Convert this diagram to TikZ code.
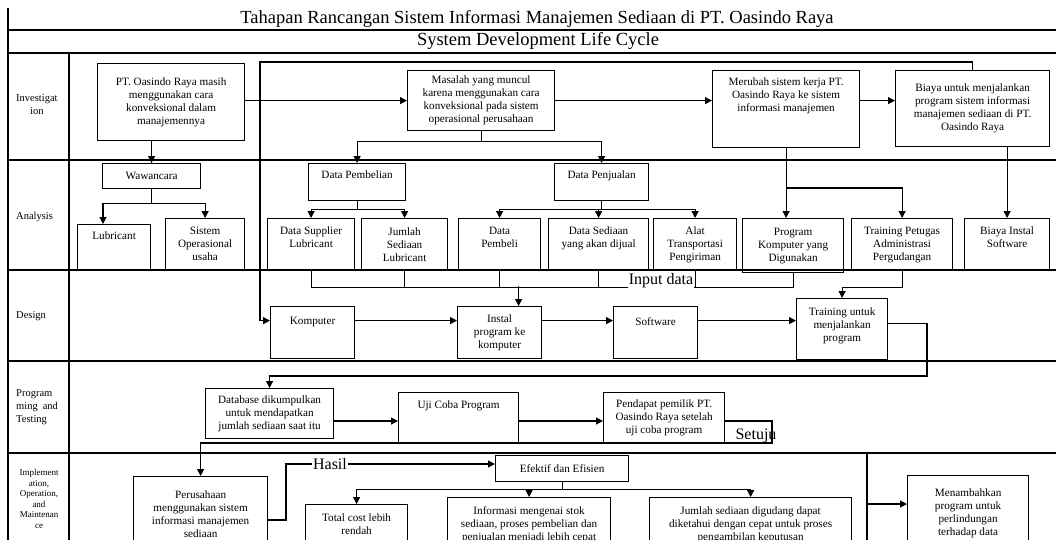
\documentclass[tikz,border=0pt]{standalone}
\usepackage{fontspec}
\setmainfont{Liberation Serif}
\usetikzlibrary{arrows.meta}

\tikzset{
  box/.style 2 args={draw, line width=1.2pt, anchor=north west, align=center,
    minimum width=#1pt, minimum height=#2pt, inner sep=2pt,
    font=\fontsize{11.2}{13}\selectfont},
  txtup/.style={text depth=#1pt},
  ln/.style={line width=1.2pt},
  arr/.style={line width=1.2pt, -{Triangle[length=7pt,width=7pt]}},
  lane/.style={inner sep=0pt, font=\fontsize{10.5}{13}\selectfont},
  title/.style={inner sep=0pt, font=\fontsize{18.5}{21}\selectfont},
  bigtxt/.style={inner sep=1pt, font=\fontsize{16}{18}\selectfont},
}

\begin{document}
\begin{tikzpicture}[x=1pt,y=-1pt]
  \useasboundingbox (0,0) rectangle (1056,539);
  \clip (0,0) rectangle (1056,539);

  % frame and lanes
  \draw[ln] (8,8) -- (8,545);
  \draw[ln] (8,30) -- (1056,30);
  \draw[ln] (8,53) -- (1056,53);
  \foreach \y in {160,270,361,453}
    \draw[ln] (8,\y) -- (1056,\y);
  \draw[ln] (69,53) -- (69,545);

  % titles
  \node[title] (judul) at (537,19) {Tahapan Rancangan Sistem Informasi Manajemen Sediaan di PT. Oasindo Raya};
  \node[title] (sdlc) at (538,41) {System Development Life Cycle};

  % lane names
  \node[lane, align=center, anchor=west] (l-inv) at (16,105) {Investigat\\ion};
  \node[lane, anchor=west] (l-ana) at (16,217) {Analysis};
  \node[lane, anchor=west] (l-des) at (16,316) {Design};
  \node[lane, align=left, anchor=west] (l-prog) at (16,407) {Program\\ming\hspace{5pt}and\\Testing};
  \node[lane, align=center, font=\fontsize{9}{10.5}\selectfont] (l-imp) at (39,499) {Implement\\ation,\\Operation,\\and\\Maintenan\\ce};

  % investigation
  \node[box={147}{77}] (oasindo) at (97,63) {PT. Oasindo Raya masih\\menggunakan cara\\konveksional dalam\\manajemennya};
  \node[box={147}{60}] (masalah) at (407,70) {Masalah yang muncul\\karena menggunakan cara\\konveksional pada sistem\\operasional perusahaan};
  \node[box={147}{77}, txtup=28] (merubah) at (712,70) {Merubah sistem kerja PT.\\Oasindo Raya ke sistem\\informasi manajemen};
  \node[box={154}{76}] (biaya) at (895,70) {Biaya untuk menjalankan\\program sistem informasi\\manajemen sediaan di PT.\\Oasindo Raya};

  % analysis
  \node[box={98}{25}] (wawancara) at (102,163) {Wawancara};
  \node[box={73}{46}, txtup=23] (lubricant) at (77,224) {Lubricant};
  \node[box={79}{51}] (sisop) at (165,218) {Sistem\\Operasional\\usaha};
  \node[box={97}{37}, txtup=14] (pembelian) at (308,163) {Data Pembelian};
  \node[box={94}{37}, txtup=14] (penjualan) at (554,163) {Data Penjualan};
  \node[box={87}{52}, txtup=15] (supplier) at (267,218) {Data Supplier\\Lubricant};
  \node[box={86}{52}] (jumlah) at (361,218) {Jumlah\\Sediaan\\Lubricant};
  \node[box={82}{52}, txtup=15] (pembeli) at (458,218) {Data\\Pembeli};
  \node[box={100}{52}, txtup=15] (dsediaan) at (548,218) {Data Sediaan\\yang akan dijual};
  \node[box={83}{52}] (alat) at (653,218) {Alat\\Transportasi\\Pengiriman};
  \node[box={101}{54}] (program) at (742,218) {Program\\Komputer yang\\Digunakan};
  \node[box={101}{52}] (training) at (851,218) {Training Petugas\\Administrasi\\Pergudangan};
  \node[box={85}{52}, txtup=15] (binstal) at (964,218) {Biaya Instal\\Software};

  % design
  \node[box={84}{52}, txtup=23] (komp) at (270,306) {Komputer};
  \node[box={84}{52}] (instal) at (457,306) {Instal\\program ke\\komputer};
  \node[box={84}{52}, txtup=23] (software) at (613,306) {Software};
  \node[box={91}{61}, txtup=8] (tuntuk) at (796,298) {Training untuk\\menjalankan\\program};

  % programming and testing
  \node[box={128}{50}] (database) at (205,388) {Database dikumpulkan\\untuk mendapatkan\\jumlah sediaan saat itu};
  \node[box={120}{50}, txtup=25] (ujicoba) at (398,392) {Uji Coba Program};
  \node[box={121}{50}] (pendapat) at (603,392) {Pendapat pemilik PT.\\Oasindo Raya setelah\\uji coba program};

  % implementation
  \node[box={134}{75}] (perusahaan) at (133,476) {Perusahaan\\menggunakan sistem\\informasi manajemen\\sediaan};
  \node[box={133}{26}] (efektif) at (495,455) {Efektif dan Efisien};
  \node[box={102}{47}, txtup=8] (totalcost) at (305,504) {Total cost lebih\\rendah};
  \node[box={163}{54}] (informasi) at (447,497) {Informasi mengenai stok\\sediaan, proses pembelian dan\\penjualan menjadi lebih cepat};
  \node[box={202}{54}] (jumlahsed) at (649,497) {Jumlah sediaan digudang dapat\\diketahui dengan cepat untuk proses\\pengambilan keputusan};
  \node[box={121}{76}] (menambah) at (907,475) {Menambahkan\\program untuk\\perlindungan\\terhadap data};

  % connectors investigation
  \draw[arr] (oasindo.east |- masalah.west) -- (masalah.west);
  \draw[arr] (masalah.east) -- (masalah.east -| merubah.west);
  \draw[arr] (merubah.east |- masalah.east) -- (masalah.east -| biaya.west);
  \draw[arr] (biaya.north) |- (260,62) |- ([yshift=12pt]komp.west);

  % connectors analysis
  \draw[arr] (wawancara.north |- oasindo.south) -- (wawancara.north);
  \draw[arr] (wawancara.south) -- ++(0,14) -| ([xshift=26pt]lubricant.north west);
  \draw[arr] (wawancara.south) -- ++(0,14) -| (sisop.north);
  \draw[arr] (masalah.south) -- ++(0,10) -| (pembelian.north);
  \draw[arr] (masalah.south) -- ++(0,10) -| (penjualan.north);
  \draw[arr] (merubah.south) -- (merubah.south |- program.north);
  \draw[arr] (merubah.south |- 0,188) -| (training.north);
  \draw[arr] (binstal.north |- biaya.south) -- (binstal.north);
  \draw[arr] (pembelian.south) -- ++(0,8) -| (supplier.north);
  \draw[arr] (pembelian.south) -- ++(0,8) -| (jumlah.north);
  \foreach \n in {pembeli,dsediaan,alat}
    \draw[arr] (penjualan.south) -- ++(0,8) -| (\n.north);

  % connectors design
  \draw[ln] (supplier.south) -- ++(0,16) -| (program.south);
  \foreach \n in {jumlah,pembeli,dsediaan,alat}
    \draw[ln] (\n.south) -- ++(0,16);
  \draw[arr] ([xshift=19pt]instal.north) ++(0,-20) -- ++(0,20);
  \draw[arr] (training.south) -- ++(0,16) -| (tuntuk.north);
  \node[bigtxt, fill=white] (input) at (661,281) {Input data};
  \draw[arr] ([yshift=12pt]komp.east) -- ([yshift=12pt]instal.west);
  \draw[arr] ([yshift=12pt]instal.east) -- ([yshift=12pt]software.west);
  \draw[arr] ([yshift=12pt]software.east) -- ([yshift=12pt]software.east -| tuntuk.west);
  \draw[arr] ([yshift=6pt]tuntuk.east) -| (927,376) -| (database.north);

  % connectors programming and testing
  \draw[arr] (database.east |- 0,421) -- (ujicoba.west |- 0,421);
  \draw[arr] (ujicoba.east |- 0,421) -- (pendapat.west |- 0,421);
  \draw[arr] (pendapat.east |- 0,421) -| (772,443) -| (perusahaan.north);
  \node[bigtxt] (setuju) at (756,436) {Setuju};

  % connectors implementation
  \node[bigtxt] (hasil) at (330,464) {Hasil};
  \draw[ln] (perusahaan.east |- 0,520) -| (286,464) -- (hasil.west);
  \draw[arr] (hasil.east) -- (efektif.west |- hasil.east);
  \foreach \n in {totalcost,informasi,jumlahsed}
    \draw[arr] (efektif.south) -- ++(0,7) -| (\n.north);
  \coordinate (garis) at (867,453);
  \draw[ln] (garis) -- ++(0,100);
  \draw[arr] (garis |- 0,504) -- (menambah.west |- 0,504);
\end{tikzpicture}
\end{document}
